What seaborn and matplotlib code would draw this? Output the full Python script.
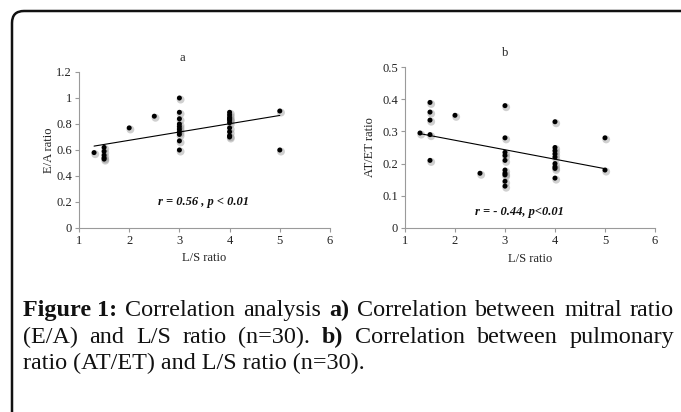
import matplotlib
matplotlib.use("Agg")
import matplotlib.pyplot as plt
import matplotlib.transforms as mtransforms
from matplotlib.path import Path
from matplotlib.patches import PathPatch
import seaborn as sns
import pandas as pd

# ---------------- data ----------------
ls_a = [1.3,
        1.5, 1.5, 1.5, 1.5, 1.5,
        2.0, 2.5,
        3, 3, 3, 3, 3, 3, 3, 3, 3, 3,
        4, 4, 4, 4, 4, 4, 4, 4, 4, 4,
        5, 5]
ea_ratio = [0.58,
            0.62, 0.59, 0.56, 0.54, 0.53,
            0.77, 0.86,
            1.00, 0.89, 0.84, 0.80, 0.78, 0.76, 0.74, 0.72, 0.67, 0.60,
            0.89, 0.87, 0.85, 0.84, 0.83, 0.81, 0.77, 0.74, 0.71, 0.70,
            0.90, 0.60]

ls_b = [1.3,
        1.5, 1.5, 1.5, 1.5, 1.5,
        2.0, 2.5,
        3, 3, 3, 3, 3, 3, 3, 3, 3, 3,
        4, 4, 4, 4, 4, 4, 4, 4, 4,
        5, 5]
atet_ratio = [0.295,
              0.39, 0.36, 0.335, 0.29, 0.21,
              0.35, 0.17,
              0.38, 0.28, 0.235, 0.225, 0.21, 0.18, 0.17, 0.165, 0.145, 0.13,
              0.33, 0.25, 0.24, 0.23, 0.22, 0.20, 0.19, 0.185, 0.155,
              0.28, 0.18]

x_ticks = [1, 2, 3, 4, 5, 6]
y_ticks_a = [0, 0.2, 0.4, 0.6, 0.8, 1.0, 1.2]
y_ticks_b = [0, 0.1, 0.2, 0.3, 0.4, 0.5]
y_ticklabels_a = ["0", "0.2", "0.4", "0.6", "0.8", "1", "1.2"]
y_ticklabels_b = ["0", "0.1", "0.2", "0.3", "0.4", "0.5"]

df_a = pd.DataFrame({"ls": ls_a, "val": ea_ratio})
df_b = pd.DataFrame({"ls": ls_b, "val": atet_ratio})

# ---------------- style ----------------
sns.set_style("white")
plt.rcParams["font.family"] = ["Liberation Serif", "DejaVu Serif"]

W, H = 681, 412
fig = plt.figure(figsize=(W / 100, H / 100), dpi=100)


def fx(x):
    return x / W


def fy(y):
    return 1 - y / H


# axes in pixel boxes (left, top, right, bottom)
box_a = (79, 72, 330, 228)
box_b = (405, 67, 655, 228)


def make_ax(box):
    l, t, r, b = box
    return fig.add_axes([fx(l), fy(b), (r - l) / W, (b - t) / H])


ax_a = make_ax(box_a)
ax_b = make_ax(box_b)

spine_col = "#9a9a9a"


def draw_panel(ax, df, yticks, yticklabels, ylim, ylabel, title, title_x,
               ann, ann_xy, ylab_x):
    shadow = mtransforms.offset_copy(ax.transData, fig=fig, x=1.2, y=-1.6,
                                     units="dots")
    sns.scatterplot(data=df, x="ls", y="val", ax=ax, s=32, color="#8a8a8a",
                    alpha=0.4, edgecolor="none", transform=shadow,
                    legend=False, zorder=2)
    sns.scatterplot(data=df, x="ls", y="val", ax=ax, s=13, color="black",
                    edgecolor="none", legend=False, zorder=3)
    sns.regplot(data=df, x="ls", y="val", ax=ax, scatter=False, ci=None,
                truncate=True, color="black", line_kws={"lw": 0.8})
    ax.set_xlim(1, 6)
    ax.set_ylim(*ylim)
    ax.set_xticks(x_ticks)
    ax.set_xticklabels([str(v) for v in x_ticks])
    ax.set_yticks(yticks)
    ax.set_yticklabels(yticklabels)
    for s in ["top", "right"]:
        ax.spines[s].set_visible(False)
    for s in ["left", "bottom"]:
        ax.spines[s].set_color(spine_col)
        ax.spines[s].set_linewidth(0.8)
    ax.tick_params(axis="both", direction="out", length=3, width=0.8,
                   color=spine_col, labelsize=9, labelcolor="#222222", pad=2,
                   left=True, bottom=True)
    ax.set_xlabel("L/S ratio", fontsize=9, color="#222222")
    ax.set_ylabel(ylabel, fontsize=9, color="#222222")
    ax.xaxis.set_label_coords(0.5, -0.155)
    ax.yaxis.set_label_coords(ylab_x, 0.5)
    ax.text(title_x, 1.05, title, transform=ax.transAxes, ha="center",
            va="bottom", fontsize=9, color="#222222")
    ax.text(ann_xy[0], ann_xy[1], ann, ha="center", va="center",
            fontsize=9, fontweight="bold", fontstyle="italic",
            color="#111111")


draw_panel(ax_a, df_a, y_ticks_a, y_ticklabels_a, (0, 1.2), "E/A ratio",
           "a", 0.41, "r = 0.56 , p < 0.01", (3.48, 0.2), -0.095)
draw_panel(ax_b, df_b, y_ticks_b, y_ticklabels_b, (0, 0.5), "AT/ET ratio",
           "b", 0.40, "r = - 0.44, p<0.01", (3.28, 0.05), -0.115)

# ---------------- frame (rounded top-left corner) ----------------
verts = [(fx(12), fy(H + 2)), (fx(12), fy(23)), (fx(12), fy(11)),
         (fx(24), fy(11)), (fx(W + 2), fy(11))]
codes = [Path.MOVETO, Path.LINETO, Path.CURVE3, Path.CURVE3, Path.LINETO]
fig.patches.append(PathPatch(Path(verts, codes), transform=fig.transFigure,
                             fill=False, lw=1.8, edgecolor="#111111"))

# ---------------- caption (justified) ----------------
renderer = fig.canvas.get_renderer()
cap_x0, cap_x1 = 23, 674
line3 = "ratio (AT/ET) and L/S ratio (n=30)."
probe = fig.text(0, 0, line3, fontsize=10)
w10 = probe.get_window_extent(renderer).width
probe.remove()
cap_fs = 10 * 343 / w10

line1 = [("Figure 1:", "bold"), ("Correlation", "normal"),
         ("analysis", "normal"), ("a)", "bold"), ("Correlation", "normal"),
         ("between", "normal"), ("mitral", "normal"), ("ratio", "normal")]
line2 = [("(E/A)", "normal"), ("and", "normal"), ("L/S", "normal"),
         ("ratio", "normal"), ("(n=30).", "normal"), ("b)", "bold"),
         ("Correlation", "normal"), ("between", "normal"),
         ("pulmonary", "normal")]


def justify(words, base_y):
    texts = []
    widths = []
    for w, wt in words:
        t = fig.text(0, fy(base_y), w, fontsize=cap_fs, fontweight=wt,
                     va="baseline", ha="left", color="#111111")
        texts.append(t)
        widths.append(t.get_window_extent(renderer).width)
    gap = (cap_x1 - cap_x0 - sum(widths)) / (len(words) - 1)
    x = cap_x0
    for t, w in zip(texts, widths):
        t.set_x(fx(x))
        x += w + gap


justify(line1, 316)
justify(line2, 343)
fig.text(fx(cap_x0), fy(369), line3, fontsize=cap_fs, va="baseline",
         ha="left", color="#111111")

fig.savefig("out.png", dpi=100)
